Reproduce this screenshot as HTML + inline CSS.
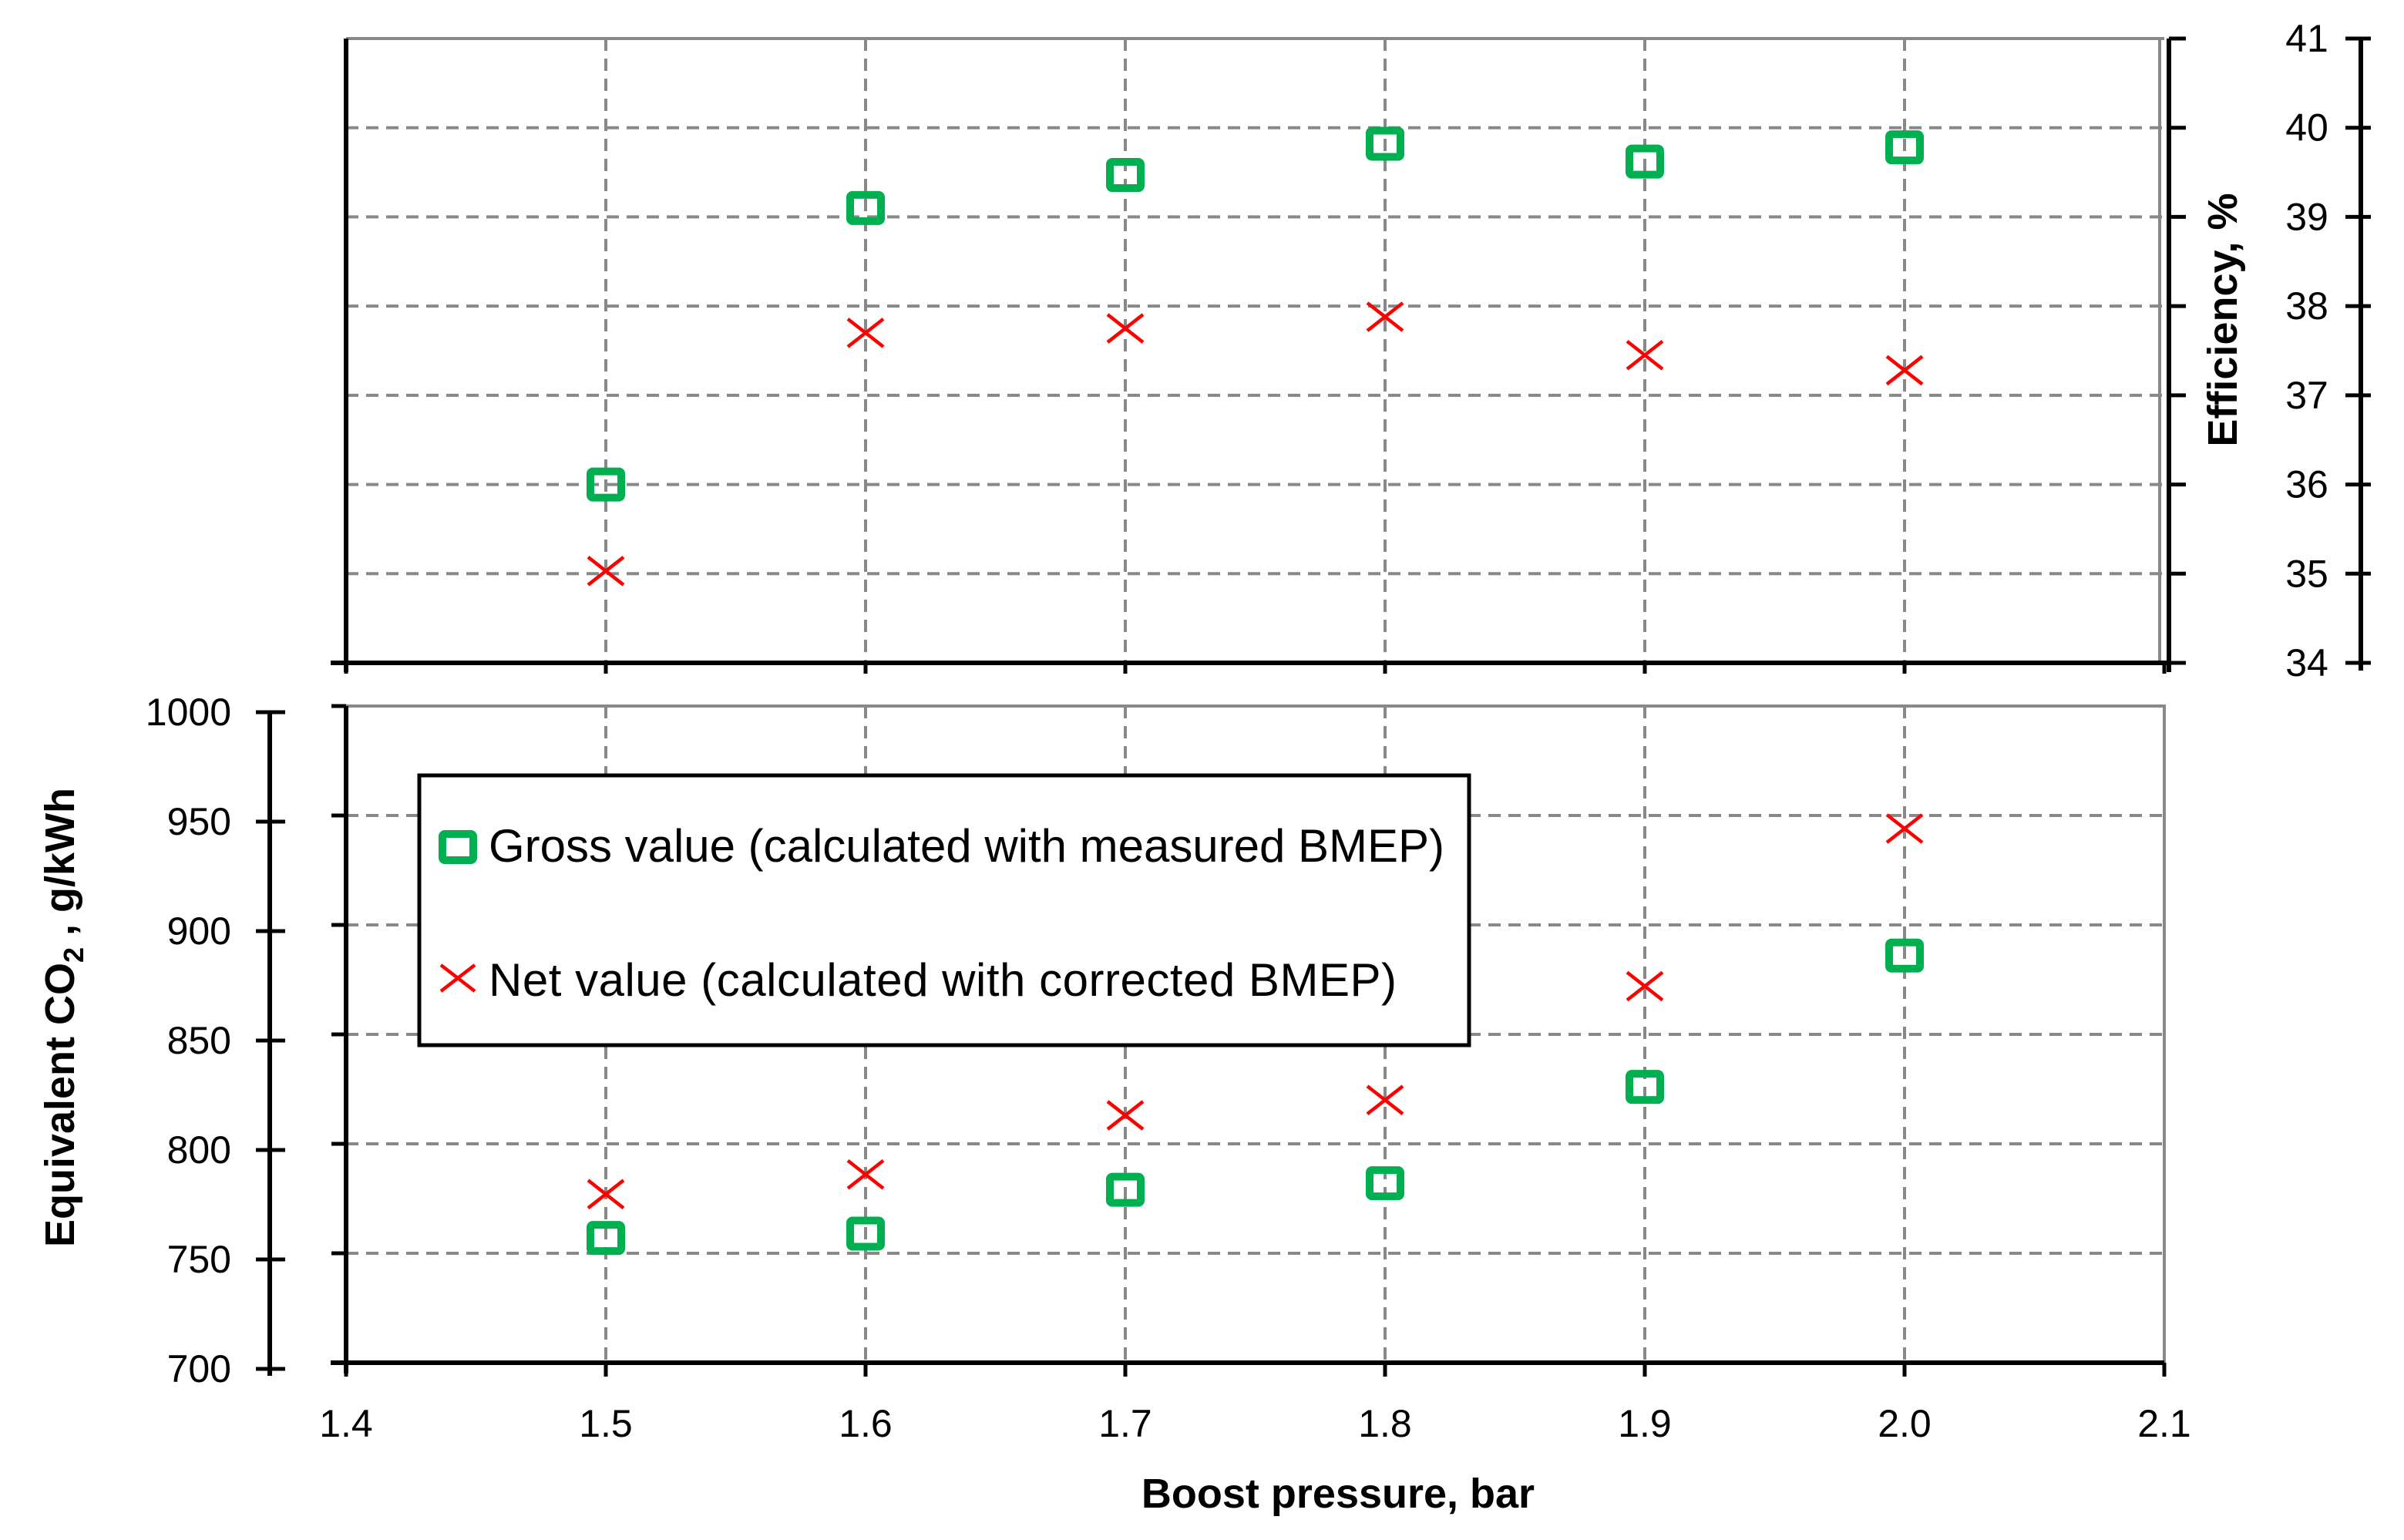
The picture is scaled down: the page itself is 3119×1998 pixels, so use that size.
<!DOCTYPE html>
<html><head><meta charset="utf-8"><style>
html,body{margin:0;padding:0;background:#fff}
svg{display:block}
text{font-family:"Liberation Sans",sans-serif;fill:#000}
</style></head><body>
<svg id="chart" width="3119" height="1998" viewBox="0 0 3119 1998" xmlns="http://www.w3.org/2000/svg">
<g id="grid"></g><g id="axes"></g><g id="marks"></g><g id="labels"></g>
</svg>
<script>
const boost = [1.5, 1.6, 1.7, 1.8, 1.9, 2.0];
const effGross = [36.0, 39.1, 39.47, 39.82, 39.62, 39.78];
const effNet = [35.03, 37.7, 37.75, 37.88, 37.45, 37.28];
const co2Gross = [757, 759, 779, 782, 826, 886];
const co2Net = [777, 786, 813, 820, 872, 944];
const xTicks = [1.4, 1.5, 1.6, 1.7, 1.8, 1.9, 2.0, 2.1];
const xTickLabels = ["1.4","1.5","1.6","1.7","1.8","1.9","2.0","2.1"];
const effTicks = [34, 35, 36, 37, 38, 39, 40, 41];
const co2Ticks = [700, 750, 800, 850, 900, 950, 1000];

const NS = "http://www.w3.org/2000/svg";
const X0 = 449, X1 = 2808;
const xS = v => X0 + (v - 1.4) / 0.7 * (X1 - X0);
const TT = 50, TB = 860;
const yT = v => TT + (41 - v) / 7 * (TB - TT);
const BT = 916, BB = 1768;
const yB = v => BT + (1000 - v) / 300 * (BB - BT);
const yBo = v => 924 + (1000 - v) / 300 * (1776 - 924);

function el(parent, tag, attrs, txt) {
  const e = document.createElementNS(NS, tag);
  for (const k in attrs) e.setAttribute(k, attrs[k]);
  if (txt !== undefined) e.textContent = txt;
  document.getElementById(parent).appendChild(e);
  return e;
}
const dash = {stroke: "#888", "stroke-width": 4, "stroke-dasharray": "16 10"};
boost.forEach(b => {
  let g = el("grid", "line", Object.assign({x1: xS(b), x2: xS(b), y1: TT, y2: TB}, dash));
  
  
  g = el("grid", "line", Object.assign({x1: xS(b), x2: xS(b), y1: BT, y2: BB}, dash));
  
  
});
effTicks.slice(1, 7).forEach(t => {
  const g = el("grid", "line", Object.assign({x1: X0, x2: X1, y1: yT(t), y2: yT(t)}, dash));
  
  
});
co2Ticks.slice(1, 6).forEach(t => {
  const g = el("grid", "line", Object.assign({x1: X0, x2: X1, y1: yB(t), y2: yB(t)}, dash));
  
  
});
let f = el("axes", "path", {d: `M${X0} ${TT} H${X1} M${X1 - 6} ${TT} V${TB} M${X0} ${BT} H${X1} V${BB}`, stroke: "#888", "stroke-width": 4, fill: "none"});


const blk = {stroke: "#000", "stroke-width": 6, fill: "none"};
let a = el("axes", "path", Object.assign({d: `M${X0} ${TT} V${TB + 12} M${X0 - 20} ${TB} H${X1 + 6} M${X1 + 6} ${TT} V${TB + 12}`}, blk));


a = el("axes", "path", Object.assign({d: `M${X0} ${BT} V${BB + 14} M${X0 - 20} ${BB} H${X1}`}, blk));


a = el("axes", "path", Object.assign({d: `M350 924 V1785`}, blk));


a = el("axes", "path", Object.assign({d: `M3063 50 V870`}, blk));


xTicks.forEach((t, i) => {
  let k = el("axes", "line", {x1: xS(t), x2: xS(t), y1: TB, y2: TB + 14, stroke: "#000", "stroke-width": 5});
  
  
  k = el("axes", "line", {x1: xS(t), x2: xS(t), y1: BB, y2: BB + 18, stroke: "#000", "stroke-width": 5});
  
  
  const l = el("labels", "text", {x: xS(t), y: 1864, "font-size": 50, "text-anchor": "middle"}, xTickLabels[i]);
  
  
});
effTicks.forEach(t => {
  let k = el("axes", "line", {x1: X1 + 6, x2: X1 + 28, y1: yT(t), y2: yT(t), stroke: "#000", "stroke-width": 5});
  
  
  k = el("axes", "line", {x1: 3043, x2: 3076, y1: yT(t), y2: yT(t), stroke: "#000", "stroke-width": 5});
  
  
  const l = el("labels", "text", {x: 2993, y: yT(t) + 17, "font-size": 50, "text-anchor": "middle"}, String(t));
  
  
});
co2Ticks.forEach(t => {
  let k = el("axes", "line", {x1: 332, x2: 370, y1: yBo(t), y2: yBo(t), stroke: "#000", "stroke-width": 5});
  
  
  k = el("axes", "line", {x1: 430, x2: X0, y1: yB(t), y2: yB(t), stroke: "#000", "stroke-width": 5});
  
  
  const l = el("labels", "text", {x: 300, y: yBo(t) + 17, "font-size": 50, "text-anchor": "end"}, String(t));
  
  
});
function square(x, y, name) {
  const s = el("marks", "rect", {x: x - 20, y: y - 17, width: 40, height: 34, rx: 3, fill: "none", stroke: "#00b050", "stroke-width": 10});
  
  
}
function cross(x, y, name) {
  const c = el("marks", "path", {d: `M${x - 23} ${y - 18} L${x + 23} ${y + 18} M${x - 23} ${y + 18} L${x + 23} ${y - 18}`, stroke: "#ff0000", "stroke-width": 4.5, fill: "none"});
  
  
}
boost.forEach((b, i) => {
  square(xS(b), yT(effGross[i]), 'efficiency-gross-point');
  cross(xS(b), yT(effNet[i]), 'efficiency-net-point');
  square(xS(b), yB(co2Gross[i]), 'co2-gross-point');
  cross(xS(b), yB(co2Net[i]), 'co2-net-point');
});
</script>
<svg style="position:absolute;left:0;top:0" width="3119" height="1998" xmlns="http://www.w3.org/2000/svg">
<g>
<rect x="544" y="1006" width="1362" height="350" fill="#fff" stroke="#000" stroke-width="5"/>
<rect x="574" y="1082" width="40" height="34" rx="3" fill="none" stroke="#00b050" stroke-width="10"/>
<text x="634" y="1118" font-size="60" textLength="1240" lengthAdjust="spacing" font-family="Liberation Sans, sans-serif">Gross value (calculated with measured BMEP)</text>
<path d="M572 1252 L616 1286 M572 1286 L616 1252" stroke="#ff0000" stroke-width="4.5"/>
<text x="634" y="1292" font-size="60" textLength="1178" lengthAdjust="spacing" font-family="Liberation Sans, sans-serif">Net value (calculated with corrected BMEP)</text>
</g>
<text x="1736" y="1956" font-size="54" font-weight="bold" text-anchor="middle" font-family="Liberation Sans, sans-serif">Boost pressure, bar</text>
<text transform="translate(96,1320) rotate(-90)" font-size="54" font-weight="bold" text-anchor="middle" font-family="Liberation Sans, sans-serif">Equivalent CO<tspan font-size="36" dy="12">2</tspan><tspan dy="-12"> , g/kWh</tspan></text>
<text transform="translate(2902,415) rotate(-90)" font-size="54" font-weight="bold" text-anchor="middle" font-family="Liberation Sans, sans-serif">Efficiency, %</text>
</svg>
</body></html>
